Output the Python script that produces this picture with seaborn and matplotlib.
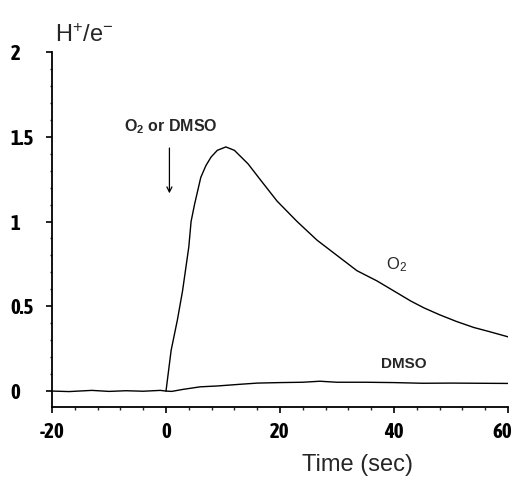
import matplotlib
matplotlib.use("Agg")
import matplotlib.pyplot as plt
from matplotlib.ticker import MultipleLocator, FixedLocator
from matplotlib.transforms import ScaledTranslation
import seaborn as sns
import pandas as pd

# ---- data ----
o2_time = [0, 0.9, 2, 2.9, 4, 4.4, 5, 6.1, 7, 7.9, 9, 10.5, 12, 14.4, 16.7,
           19.5, 23, 26.5, 30, 33.5, 37, 40, 43, 45.3, 48, 51, 54, 56.8, 60]
o2_value = [0.0, 0.24, 0.42, 0.59, 0.85, 1.0, 1.1, 1.26, 1.33, 1.38, 1.42, 1.44,
            1.42, 1.34, 1.24, 1.12, 1.0, 0.89, 0.80, 0.71, 0.65, 0.59, 0.53,
            0.49, 0.45, 0.41, 0.375, 0.35, 0.32]
dmso_time = [-20, -17, -13, -10, -7, -4, -1, 0, 1, 3, 6, 9, 13, 16, 20, 24, 27,
             30, 35, 40, 45, 50, 55, 60]
dmso_value = [0.0, -0.003, 0.004, -0.002, 0.002, -0.001, 0.004, 0.0, -0.002,
              0.01, 0.025, 0.03, 0.04, 0.047, 0.05, 0.052, 0.058, 0.052, 0.052,
              0.05, 0.046, 0.047, 0.046, 0.045]
y_ticks = [0, 0.5, 1, 1.5, 2]
y_tick_labels = ["0", "0.5", "1", "1.5", "2"]
x_ticks = [-20, 0, 20, 40, 60]
x_tick_labels = ["-20", "0", "20", "40", "60"]

df = pd.concat([
    pd.DataFrame({"time": o2_time, "value": o2_value, "series": "O2"}),
    pd.DataFrame({"time": dmso_time, "value": dmso_value, "series": "DMSO"}),
])

sns.set_style("ticks")
plt.rcParams["font.family"] = ["Liberation Sans", "DejaVu Sans"]
plt.rcParams["mathtext.fontset"] = "custom"
plt.rcParams["mathtext.rm"] = "Liberation Sans"
plt.rcParams["mathtext.it"] = "Liberation Sans:italic"
plt.rcParams["mathtext.bf"] = "Liberation Sans:bold"

W, H = 516, 478
fig = plt.figure(figsize=(W / 100, H / 100), dpi=100)
ax = fig.add_axes([52 / W, 1 - 407 / H, (508 - 52) / W, (407 - 52) / H])

sns.lineplot(data=df, x="time", y="value", units="series", estimator=None,
             color="black", linewidth=1.0, ax=ax, sort=False)

ax.set_xlim(-20, 60)
ax.set_ylim(-0.094, 2.0)
ax.set_xlabel("")
ax.set_ylabel("")
sns.despine(ax=ax)
for s in ("left", "bottom"):
    ax.spines[s].set_linewidth(1.3)
    ax.spines[s].set_color("black")

ax.xaxis.set_major_locator(FixedLocator(x_ticks))
ax.set_xticklabels(x_tick_labels)
ax.xaxis.set_minor_locator(MultipleLocator(4))
ax.yaxis.set_major_locator(FixedLocator(y_ticks))
ax.set_yticklabels(y_tick_labels)
ax.yaxis.set_minor_locator(MultipleLocator(0.1))

cond = ["Asap Condensed", "Liberation Sans", "DejaVu Sans"]
ax.tick_params(axis="x", which="major", length=4.5, width=1.2, pad=6,
               colors="black", labelsize=15)
ax.tick_params(axis="y", which="major", length=4, width=1.2, pad=26,
               colors="black", labelsize=15)
ax.tick_params(axis="x", which="minor", length=2.5, width=1.0)
ax.tick_params(axis="y", which="minor", length=1.8, width=1.0)
for lab in ax.get_xticklabels() + ax.get_yticklabels():
    lab.set_family(cond)
    lab.set_fontweight("bold")
for lab in ax.get_yticklabels():
    lab.set_horizontalalignment("left")
last = ax.get_xticklabels()[-1]
last.set_transform(last.get_transform() +
                   ScaledTranslation(-6 / 100, 0, fig.dpi_scale_trans))

# annotations
ax.text(0.9, 1.535, r"$\mathbf{O}_\mathbf{2}$ or DMSO", ha="center", va="baseline",
        fontsize=11.5, fontweight="bold")
ax.annotate("", xy=(0.6, 1.15), xytext=(0.6, 1.45),
            arrowprops=dict(arrowstyle="->", color="black", lw=0.9,
                            mutation_scale=9))
ax.text(40.5, 0.72, r"O$_2$", ha="center", va="baseline", fontsize=12)
ax.text(41.8, 0.135, "DMSO", ha="center", va="baseline", fontsize=11,
        fontweight="bold")

fig.text(55 / W, 1 - 42 / H, r"H$^{+}$/e$^{-}$", ha="left", va="baseline",
         fontsize=17)
fig.text(358 / W, 1 - 471 / H, "Time (sec)", ha="center", va="baseline",
         fontsize=17)

fig.savefig("out.png", dpi=100)
